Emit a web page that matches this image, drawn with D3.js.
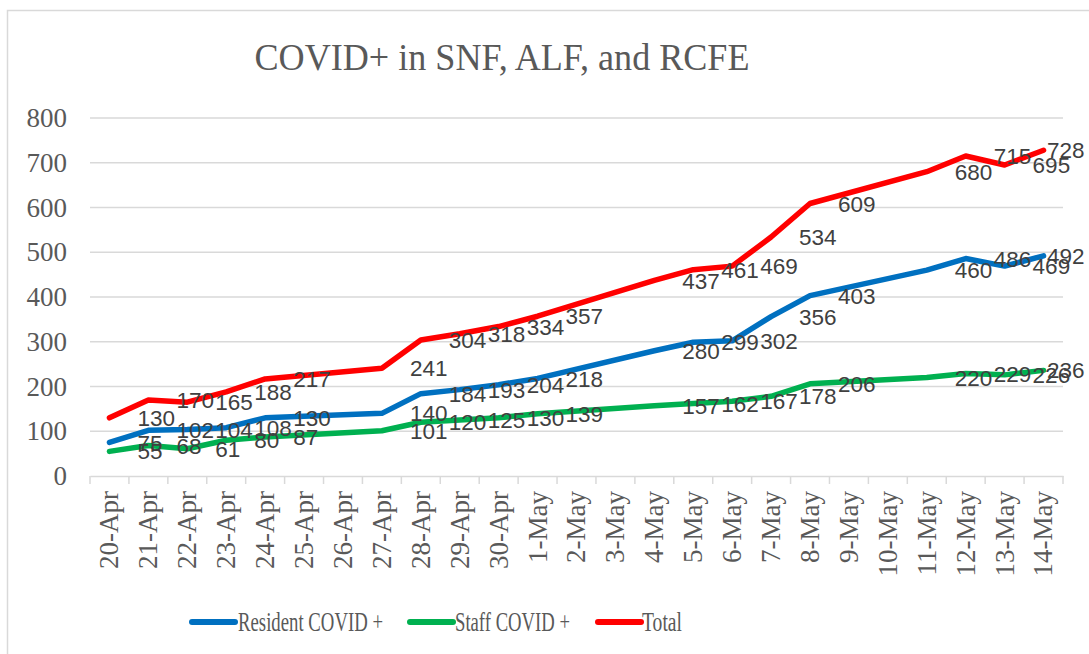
<!DOCTYPE html>
<html>
<head>
<meta charset="utf-8">
<script src="https://cdn.jsdelivr.net/npm/d3@7"></script>
<style>
  body { margin: 0; background: #fff; }
  svg { display: block; }
</style>
</head>
<body>
<svg id="chart" width="1089" height="654"></svg>
<script>
// === Données ===
const dates = ["20-Apr", "21-Apr", "22-Apr", "23-Apr", "24-Apr", "25-Apr", "26-Apr", "27-Apr",
  "28-Apr", "29-Apr", "30-Apr", "1-May", "2-May", "3-May", "4-May", "5-May", "6-May",
  "7-May", "8-May", "9-May", "10-May", "11-May", "12-May", "13-May", "14-May"];

// null = cellule vide (la ligne relie les points voisins)
const resident = [75, 102, 104, 108, 130, null, null, 140, 184, 193, 204, 218, null, null,
  280, 299, 302, 356, 403, null, null, 460, 486, 469, 492];
const staff = [55, 68, 61, 80, 87, null, null, 101, 120, 125, 130, 139, null, null,
  157, 162, 167, 178, 206, null, null, 220, 229, 226, 236];
const total = [130, 170, 165, 188, 217, null, null, 241, 304, 318, 334, 357, null, null,
  437, 461, 469, 534, 609, null, null, 680, 715, 695, 728];

const yTicks = [0, 100, 200, 300, 400, 500, 600, 700, 800];

const series = [
  { name: "Resident COVID +", values: resident, color: "#0070C0" },
  { name: "Staff COVID +", values: staff, color: "#00B050" },
  { name: "Total", values: total, color: "#FF0000" }
];

const svg = d3.select('#chart');
const serif = '"Liberation Serif", "Times New Roman", serif';
const plotLeft = 90, plotRight = 1063, plotTop = 118, plotBottom = 476;

// bordure du graphique
svg.append('rect')
  .attr('x', 7.5).attr('y', 10.5)
  .attr('width', 1100).attr('height', 700)
  .attr('fill', 'none')
  .attr('stroke', '#d9d9d9')
  .attr('stroke-width', 1.5);

// titre
svg.append('text')
  .attr('x', 502).attr('y', 70)
  .attr('text-anchor', 'middle')
  .attr('textLength', 495)
  .attr('lengthAdjust', 'spacingAndGlyphs')
  .style('font-family', serif)
  .style('font-size', '38px')
  .attr('fill', '#595959')
  .text('COVID+ in  SNF, ALF, and RCFE');

const x = d3.scaleBand().domain(dates).range([plotLeft, plotRight]);
const y = d3.scaleLinear().domain([0, 800]).range([plotBottom, plotTop]);
const cx = d => x(d) + x.bandwidth() / 2;

// === Grille ===
svg.append('g')
  .selectAll('line')
  .data(yTicks.filter(t => t > 0))
  .enter().append('line')
  .attr('x1', plotLeft).attr('x2', plotRight)
  .attr('y1', d => y(d)).attr('y2', d => y(d))
  .attr('stroke', '#d9d9d9')
  .attr('stroke-width', 1.3);

// axe Y
const yAxis = svg.append('g')
  .attr('transform', `translate(${plotLeft},0)`)
  .call(d3.axisLeft(y).tickValues(yTicks).tickSize(0).tickPadding(23));
yAxis.select('.domain').remove();
yAxis.selectAll('text')
  .style('font-family', serif)
  .style('font-size', '27px')
  .attr('fill', '#595959');

// axe X
const xAxis = svg.append('g')
  .attr('transform', `translate(0,${plotBottom})`)
  .call(d3.axisBottom(x).tickSize(0).tickPadding(0));
xAxis.select('.domain')
  .attr('stroke', '#d9d9d9')
  .attr('stroke-width', 1.5);
xAxis.selectAll('text')
  .style('font-family', serif)
  .style('font-size', '27px')
  .attr('fill', '#595959')
  .attr('text-anchor', 'end')
  .attr('transform', 'rotate(-90)')
  .attr('x', -15)
  .attr('y', 0)
  .attr('dy', '0.33em');

// petites graduations aux limites des catégories
const bounds = dates.map(d => x(d)).concat([plotRight]);
svg.append('g')
  .selectAll('line')
  .data(bounds)
  .enter().append('line')
  .attr('x1', d => d).attr('x2', d => d)
  .attr('y1', plotBottom).attr('y2', plotBottom + 8)
  .attr('stroke', '#d9d9d9')
  .attr('stroke-width', 1.5);

// === Lignes ===
const line = d3.line()
  .x(d => cx(d.date))
  .y(d => y(d.value));

series.forEach(s => {
  s.points = dates.map((d, i) => ({ date: d, value: s.values[i] }))
    .filter(p => p.value != null);
  svg.append('path')
    .datum(s.points)
    .attr('d', line)
    .attr('fill', 'none')
    .attr('stroke', s.color)
    .attr('stroke-width', 5.5)
    .attr('stroke-linejoin', 'round')
    .attr('stroke-linecap', 'round');
});

// === Étiquettes de données (à droite des points, repoussées dans le cadre) ===
series.forEach(s => {
  svg.append('g')
    .selectAll('text')
    .data(s.points)
    .enter().append('text')
    .attr('x', d => Math.min(cx(d.date) + 28, 1047))
    .attr('y', d => y(d.value))
    .attr('dy', '0.36em')
    .style('font-family', '"Liberation Sans", Arial, sans-serif')
    .style('font-size', '22.5px')
    .attr('fill', '#404040')
    .text(d => d.value);
});

// === Légende ===
const legendItems = [
  { s: series[0], x0: 192, tx: 238, tw: 145 },
  { s: series[1], x0: 410, tx: 455, tw: 115 },
  { s: series[2], x0: 598, tx: 642, tw: 40 }
];
const legend = svg.append('g');
legendItems.forEach(it => {
  legend.append('line')
    .attr('x1', it.x0).attr('x2', it.x0 + 43)
    .attr('y1', 622).attr('y2', 622)
    .attr('stroke', it.s.color)
    .attr('stroke-width', 6)
    .attr('stroke-linecap', 'round');
  legend.append('text')
    .attr('x', it.tx).attr('y', 622)
    .attr('dy', '0.35em')
    .attr('textLength', it.tw)
    .attr('lengthAdjust', 'spacingAndGlyphs')
    .style('font-family', serif)
    .style('font-size', '27px')
    .attr('fill', '#595959')
    .text(it.s.name);
});
</script>
</body>
</html>
